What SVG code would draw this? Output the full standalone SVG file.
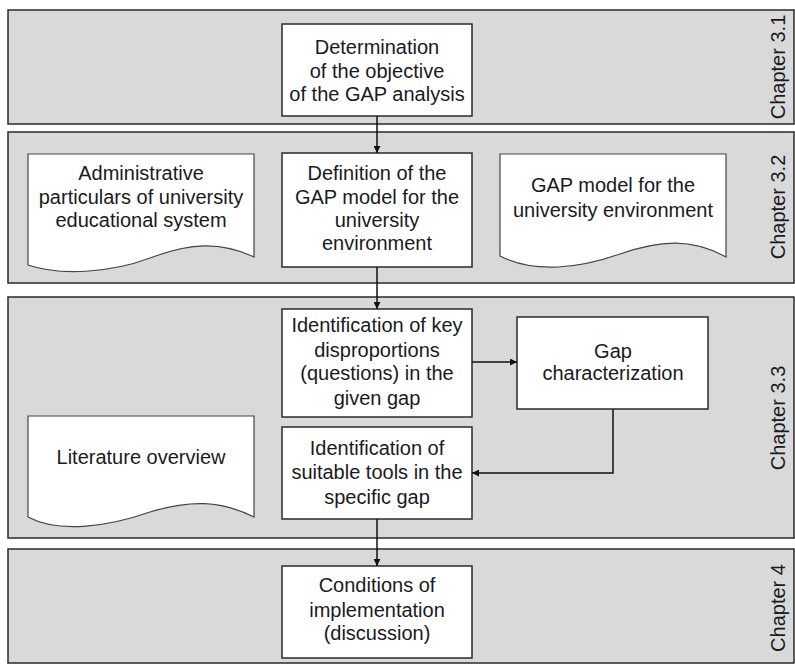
<svg xmlns="http://www.w3.org/2000/svg" width="795" height="664" viewBox="0 0 795 664">
<defs>
<marker id="arr" viewBox="0 0 10 10" refX="10" refY="5" markerWidth="7" markerHeight="7" markerUnits="userSpaceOnUse" orient="auto">
<path d="M0,0 L10,5 L0,10 Z" fill="#111"/>
</marker>
</defs>
<style>
.band{fill:#d9d9d9;stroke:#2a2a2a;stroke-width:1.5}
.box{fill:#fff;stroke:#2a2a2a;stroke-width:1.5}
.doc{fill:#fff;stroke:#444;stroke-width:1.2}
text{font-family:"Liberation Sans",Arial,sans-serif;font-size:20px;fill:#1a1a22}
.c{text-anchor:middle}
.conn{fill:none;stroke:#111;stroke-width:1.5}
</style>
<rect width="795" height="664" fill="#fff"/>
<g id="band31"><rect class="band" x="8" y="10" width="786" height="114"/><text class="c" transform="translate(785,67) rotate(-90)">Chapter 3.1</text></g>
<g id="band32"><rect class="band" x="8" y="132" width="786" height="151"/><text class="c" transform="translate(785,207) rotate(-90)">Chapter 3.2</text></g>
<g id="band33"><rect class="band" x="8" y="297" width="786" height="241"/><text class="c" transform="translate(785,418) rotate(-90)">Chapter 3.3</text></g>
<g id="band4"><rect class="band" x="8" y="549" width="786" height="114"/><text class="c" transform="translate(785,608) rotate(-90)">Chapter 4</text></g>

<g id="determination"><rect class="box" x="282" y="24" width="190" height="92"/>
<text class="c" x="377" y="54">Determination</text><text class="c" x="377" y="78">of the objective</text><text class="c" x="377" y="101">of the GAP analysis</text></g>

<g id="definition"><rect class="box" x="282" y="153" width="190" height="114"/>
<text class="c" x="377" y="180">Definition of the</text><text class="c" x="377" y="204">GAP model for the</text><text class="c" x="377" y="227">university</text><text class="c" x="377" y="250">environment</text></g>

<g id="admin"><path class="doc" d="M28,154 H254 V257 C220,241 190,243 150,258 C110,273 60,276 28,265 Z"/>
<text class="c" x="141" y="180">Administrative</text><text class="c" x="141" y="204">particulars of university</text><text class="c" x="141" y="227">educational system</text></g>

<g id="gapmodel"><path class="doc" d="M500,154 H726 V257 C692,238 660,240 620,254 C580,268 535,274 500,256 Z"/>
<text class="c" x="613" y="192">GAP model for the</text><text class="c" x="613" y="217">university environment</text></g>

<g id="keydisp"><rect class="box" x="282" y="309" width="190" height="108"/>
<text class="c" x="377" y="332">Identification of key</text><text class="c" x="377" y="357">disproportions</text><text class="c" x="377" y="380">(questions) in the</text><text class="c" x="377" y="405">given gap</text></g>

<g id="gapchar"><rect class="box" x="517" y="317" width="191" height="92"/>
<text class="c" x="613" y="358">Gap</text><text class="c" x="613" y="380">characterization</text></g>

<g id="tools"><rect class="box" x="282" y="427" width="190" height="92"/>
<text class="c" x="377" y="455">Identification of</text><text class="c" x="377" y="479">suitable tools in the</text><text class="c" x="377" y="504">specific gap</text></g>

<g id="literature"><path class="doc" d="M28,416 H254 V517 C220,500 190,500 150,512 C110,526 60,534 28,517 Z"/>
<text class="c" x="141" y="464">Literature overview</text></g>

<g id="conditions"><rect class="box" x="282" y="566" width="190" height="92"/>
<text class="c" x="377" y="592">Conditions of</text><text class="c" x="377" y="617">implementation</text><text class="c" x="377" y="640">(discussion)</text></g>

<g id="connectors">
<path class="conn" d="M377,116 V153" marker-end="url(#arr)"/>
<path class="conn" d="M377,267 V309" marker-end="url(#arr)"/>
<path class="conn" d="M472,362 H517" marker-end="url(#arr)"/>
<path class="conn" d="M613,409 V473 H472" marker-end="url(#arr)"/>
<path class="conn" d="M377,519 V566" marker-end="url(#arr)"/>
</g>
</svg>
